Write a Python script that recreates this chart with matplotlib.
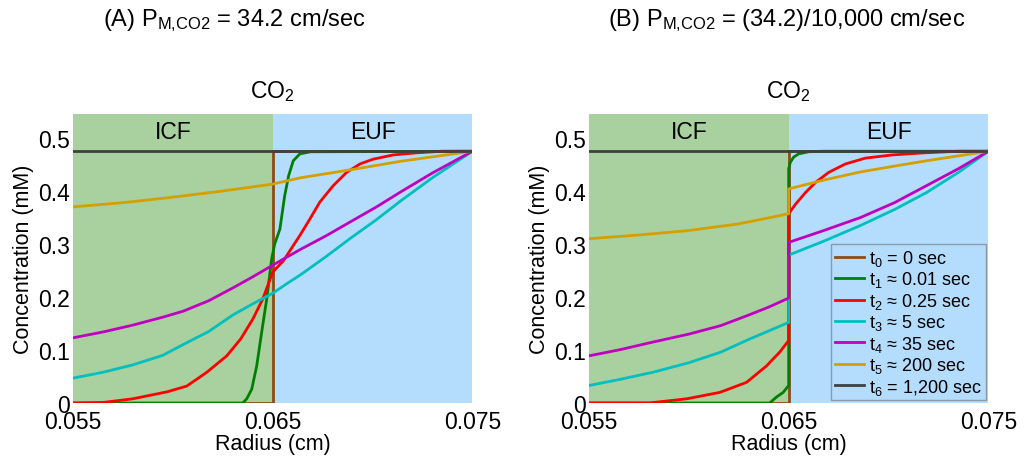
import matplotlib
matplotlib.use("Agg")
import matplotlib.pyplot as plt

plt.rcParams['font.family'] = ['Liberation Sans', 'DejaVu Sans']
plt.rcParams['mathtext.fontset'] = 'custom'
plt.rcParams['mathtext.rm'] = 'Liberation Sans'
plt.rcParams['mathtext.it'] = 'Liberation Sans:italic'

# membrane position and domain limits (cm)
r_in, r_mem, r_out = 0.055, 0.065, 0.075

labels = ["t$_0$ = 0 sec", "t$_1$ \u2248 0.01 sec", "t$_2$ \u2248 0.25 sec",
          "t$_3$ \u2248 5 sec", "t$_4$ \u2248 35 sec", "t$_5$ \u2248 200 sec",
          "t$_6$ = 1,200 sec"]
colors = ["#8b4c16", "#008000", "#ff0000", "#00bfbf", "#bf00bf", "#d4a000", "#404040"]

# ---- panel A: P = 34.2 cm/sec ----
a_t0_r = [0.055, 0.065, 0.065, 0.075]
a_t0_c = [0.0, 0.0, 0.475, 0.475]
a_t1_r = [0.055, 0.0635, 0.0637, 0.06395, 0.0642, 0.06445, 0.0647, 0.06495, 0.0651,
          0.06536, 0.0656, 0.0658, 0.06603, 0.06636, 0.0669, 0.075]
a_t1_c = [0.0, 0.0, 0.008, 0.026, 0.07, 0.134, 0.196, 0.272, 0.30,
          0.328, 0.391, 0.429, 0.457, 0.47, 0.474, 0.475]
a_t2_r = [0.055, 0.0565, 0.058, 0.0597, 0.0607, 0.0617, 0.0627, 0.0634, 0.064, 0.0645,
          0.065, 0.06553, 0.06603, 0.06636, 0.06686, 0.06736, 0.06803, 0.0687, 0.06937,
          0.07003, 0.07103, 0.0722, 0.0735, 0.075]
a_t2_c = [0.0, 0.001, 0.008, 0.021, 0.032, 0.058, 0.089, 0.121, 0.158, 0.196,
          0.247, 0.268, 0.297, 0.316, 0.347, 0.379, 0.41, 0.435, 0.451,
          0.46, 0.468, 0.472, 0.475, 0.475]
a_t3_r = [0.055, 0.0565, 0.058, 0.0595, 0.0605, 0.0618, 0.063, 0.064, 0.065, 0.0657,
          0.0664, 0.0677, 0.0689, 0.0702, 0.0714, 0.073, 0.075]
a_t3_c = [0.047, 0.058, 0.072, 0.09, 0.11, 0.135, 0.166, 0.187, 0.207, 0.225,
          0.242, 0.277, 0.311, 0.346, 0.381, 0.425, 0.475]
a_t4_r = [0.055, 0.0565, 0.058, 0.0595, 0.0605, 0.0618, 0.063, 0.064, 0.065, 0.0664,
          0.0677, 0.0689, 0.0702, 0.0714, 0.073, 0.075]
a_t4_c = [0.123, 0.134, 0.147, 0.162, 0.173, 0.193, 0.217, 0.238, 0.26, 0.29,
          0.316, 0.342, 0.37, 0.398, 0.434, 0.475]
a_t5_r = [0.055, 0.0575, 0.0597, 0.0625, 0.065, 0.0664, 0.0689, 0.0714, 0.075]
a_t5_c = [0.370, 0.378, 0.387, 0.400, 0.413, 0.425, 0.44, 0.456, 0.475]
a_t6_r = [0.055, 0.075]
a_t6_c = [0.475, 0.475]

# ---- panel B: P = 34.2/10,000 cm/sec ----
b_t0_r = [0.055, 0.065, 0.065, 0.075]
b_t0_c = [0.0, 0.0, 0.475, 0.475]
b_t1_r = [0.055, 0.06405, 0.06438, 0.06472, 0.065, 0.065, 0.06508, 0.06525, 0.0655,
          0.066, 0.0667, 0.075]
b_t1_c = [0.0, 0.0, 0.011, 0.02, 0.033, 0.442, 0.454, 0.464, 0.47,
          0.474, 0.475, 0.475]
b_t2_r = [0.055, 0.058, 0.0599, 0.06155, 0.06289, 0.06389, 0.06455, 0.065, 0.065,
          0.06534, 0.06584, 0.06634, 0.067, 0.06784, 0.06884, 0.07017, 0.0718, 0.0735, 0.075]
b_t2_c = [0.0, 0.0, 0.008, 0.02, 0.039, 0.07, 0.096, 0.118, 0.357,
          0.375, 0.397, 0.416, 0.435, 0.451, 0.462, 0.468, 0.472, 0.475, 0.475]
b_t3_r = [0.055, 0.0566, 0.0582, 0.06, 0.0616, 0.063, 0.064, 0.065, 0.065,
          0.0668, 0.0686, 0.0703, 0.0719, 0.0735, 0.075]
b_t3_c = [0.033, 0.045, 0.058, 0.076, 0.096, 0.12, 0.136, 0.152, 0.279,
          0.306, 0.335, 0.365, 0.397, 0.435, 0.475]
b_t4_r = [0.055, 0.0566, 0.0582, 0.06, 0.0616, 0.063, 0.064, 0.065, 0.065,
          0.0668, 0.0686, 0.0703, 0.0719, 0.0735, 0.075]
b_t4_c = [0.089, 0.101, 0.115, 0.13, 0.146, 0.166, 0.181, 0.198, 0.303,
          0.326, 0.35, 0.378, 0.41, 0.442, 0.475]
b_t5_r = [0.055, 0.0575, 0.0599, 0.0625, 0.065, 0.065, 0.0668, 0.0686, 0.0703, 0.0719, 0.075]
b_t5_c = [0.310, 0.317, 0.325, 0.338, 0.357, 0.404, 0.421, 0.436, 0.447, 0.457, 0.475]
b_t6_r = [0.055, 0.075]
b_t6_c = [0.475, 0.475]

panel_a = [(a_t0_r, a_t0_c), (a_t1_r, a_t1_c), (a_t2_r, a_t2_c), (a_t3_r, a_t3_c),
           (a_t4_r, a_t4_c), (a_t5_r, a_t5_c), (a_t6_r, a_t6_c)]
panel_b = [(b_t0_r, b_t0_c), (b_t1_r, b_t1_c), (b_t2_r, b_t2_c), (b_t3_r, b_t3_c),
           (b_t4_r, b_t4_c), (b_t5_r, b_t5_c), (b_t6_r, b_t6_c)]

fig = plt.figure(figsize=(10.24, 4.6), dpi=100)
ax_a = fig.add_axes([0.0713, 0.1217, 0.39, 0.628])
ax_b = fig.add_axes([0.5752, 0.1217, 0.39, 0.628])


def draw_panel(ax, series, legend=False):
    ax.axvspan(r_in, r_mem, color="#a9d09f", lw=0, zorder=0)
    ax.axvspan(r_mem, r_out, color="#b3dcfd", lw=0, zorder=0)
    for (r, c), col, lab in zip(series, colors, labels):
        ax.plot(r, c, color=col, lw=2.0, label=lab, zorder=2)
    ax.set_xlim(r_in, r_out)
    ax.set_ylim(0, 0.545)
    ax.set_xticks([0.055, 0.065, 0.075])
    ax.set_xticklabels(["0.055", "0.065", "0.075"])
    ax.set_yticks([0, 0.1, 0.2, 0.3, 0.4, 0.5])
    ax.set_yticklabels(["0", "0.1", "0.2", "0.3", "0.4", "0.5"])
    ax.tick_params(axis="x", length=0, labelsize=16.5, pad=5)
    ax.tick_params(axis="y", length=0, labelsize=16.5, pad=2)
    for s in ax.spines.values():
        s.set_visible(False)
    ax.set_xlabel("Radius (cm)", fontsize=15.5, labelpad=0)
    ax.set_ylabel("Concentration (mM)", fontsize=15.5, labelpad=3)
    ax.text(0.060, 0.512, "ICF", fontsize=16.5, ha="center", va="center")
    ax.text(0.070, 0.512, "EUF", fontsize=16.5, ha="center", va="center")
    ax.set_title("CO$_2$", fontsize=16.5, pad=12)
    if legend:
        leg = ax.legend(loc="lower right", fontsize=13, frameon=True,
                        handlelength=1.6, handletextpad=0.3, labelspacing=0.08,
                        borderpad=0.2, borderaxespad=0.15)
        frame = leg.get_frame()
        frame.set_facecolor("#b3dcfd")
        frame.set_edgecolor("#8a9aa8")
        frame.set_alpha(1)
        frame.set_boxstyle("square", pad=0)


draw_panel(ax_a, panel_a)
draw_panel(ax_b, panel_b, legend=True)

fig.text(0.229, 0.955, "(A) P$_{\\mathregular{M{,}CO2}}$ = 34.2 cm/sec", fontsize=17,
         ha="center", va="center")
fig.text(0.768, 0.955, "(B) P$_{\\mathregular{M{,}CO2}}$ = (34.2)/10,000 cm/sec", fontsize=17,
         ha="center", va="center")

fig.savefig("out.png", dpi=100)
